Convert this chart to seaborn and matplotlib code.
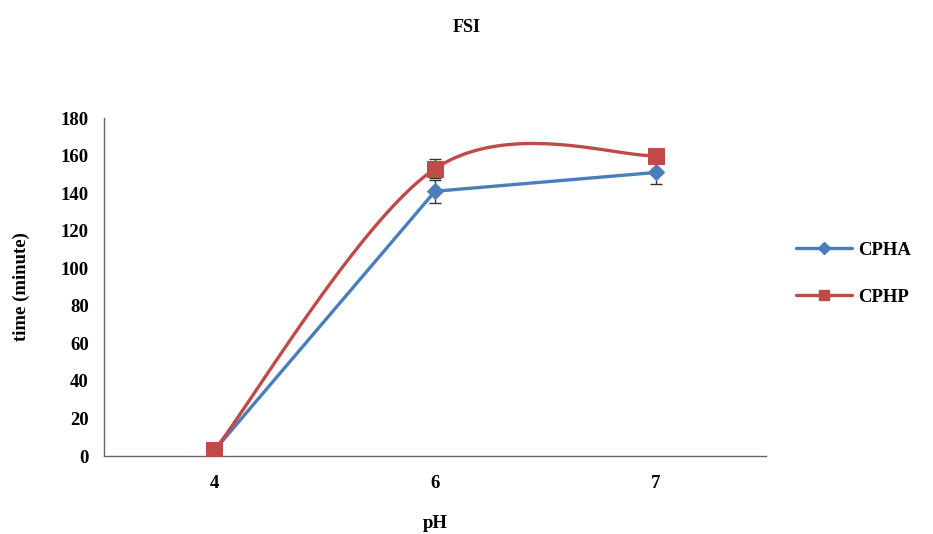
import numpy as np
import pandas as pd
import matplotlib
matplotlib.use("Agg")
import matplotlib.pyplot as plt
import seaborn as sns

# data
ph_labels = ["4", "6", "7"]
cpha = [3, 141, 151]
cpha_err = [1, 6, 6]
cphp = [3, 153, 160]
cphp_err = [1, 5, 3]

BLUE = "#4A7EBB"
RED = "#BE4B48"


def excel_smooth(xs, ys, n=60):
    # Excel-style smoothed line: cubic bezier with control points at 1/6 of neighbour chord
    xs = np.asarray(xs, float)
    ys = np.asarray(ys, float)
    px = np.concatenate([[xs[0]], xs, [xs[-1]]])
    py = np.concatenate([[ys[0]], ys, [ys[-1]]])
    outx, outy = [], []
    t = np.linspace(0, 1, n)
    for i in range(1, len(px) - 2):
        p0 = np.array([px[i], py[i]])
        p3 = np.array([px[i + 1], py[i + 1]])
        c1 = p0 + (p3 - np.array([px[i - 1], py[i - 1]])) / 6
        c2 = p3 - (np.array([px[i + 2], py[i + 2]]) - p0) / 6
        b = ((1 - t) ** 3)[:, None] * p0 + (3 * (1 - t) ** 2 * t)[:, None] * c1 \
            + (3 * (1 - t) * t ** 2)[:, None] * c2 + (t ** 3)[:, None] * p3
        outx.extend(b[:, 0])
        outy.extend(b[:, 1])
    return outx, outy


sns.set_style("white")
plt.rcParams["font.family"] = ["Liberation Serif", "DejaVu Serif"]
plt.rcParams["font.weight"] = "bold"
plt.rcParams["text.color"] = "black"
plt.rcParams["axes.labelcolor"] = "black"
plt.rcParams["xtick.color"] = "black"
plt.rcParams["ytick.color"] = "black"

pos = np.arange(len(ph_labels))
df = pd.DataFrame({"pos": pos, "CPHA": cpha, "CPHP": cphp})

fig = plt.figure(figsize=(9.33, 5.34), dpi=100)
ax = fig.add_axes([0.1115, 0.146, 0.7095, 0.633])

# CPHA: straight segments, diamond markers
ax.errorbar(pos, cpha, yerr=cpha_err, fmt="none", ecolor="#333333", elinewidth=1, capsize=4, zorder=2)
sns.lineplot(data=df, x="pos", y="CPHA", ax=ax, color=BLUE, linewidth=2.4, marker="D",
             markersize=8, markeredgecolor=BLUE, zorder=3)
ax.plot([], [], color=BLUE, linewidth=2.4, marker="D", markersize=6, label="CPHA")

# CPHP: smoothed line, square markers
ax.errorbar(pos, cphp, yerr=cphp_err, fmt="none", ecolor="#333333", elinewidth=1, capsize=4, zorder=2)
sx, sy = excel_smooth(pos, cphp)
ax.plot(sx, sy, color=RED, linewidth=2.4, zorder=4)
sns.lineplot(data=df, x="pos", y="CPHP", ax=ax, color=RED, linewidth=0, marker="s",
             markersize=12, markeredgecolor=RED, zorder=5)
ax.plot([], [], color=RED, linewidth=2.4, marker="s", markersize=7, label="CPHP")

ax.set_xlim(-0.5, 2.5)
ax.set_ylim(0, 180)
ax.set_yticks(np.arange(0, 181, 20))
ax.set_xticks([-0.5, 0.5, 1.5, 2.5])
ax.set_xticklabels([])
ax.set_xticks(pos, minor=True)
ax.set_xticklabels(ph_labels, minor=True)
ax.tick_params(axis="x", which="minor", length=0, pad=14, labelsize=13.5)
ax.tick_params(axis="x", which="major", length=5, direction="out", color="#666666")
ax.tick_params(axis="y", length=5, direction="out", color="#666666", labelsize=13.5, pad=6)

for s in ["top", "right"]:
    ax.spines[s].set_visible(False)
for s in ["left", "bottom"]:
    ax.spines[s].set_color("#666666")
    ax.spines[s].set_linewidth(1)

ax.set_xlabel("pH", fontsize=13.5, fontweight="bold", labelpad=16)
ax.set_ylabel("time (minute)", fontsize=13.5, fontweight="bold", labelpad=22)
fig.suptitle("FSI", x=0.5, y=0.965, fontsize=13, fontweight="bold")

handles, labels = ax.get_legend_handles_labels()
keep = [(h, l) for h, l in zip(handles, labels) if l in ("CPHA", "CPHP")]
leg = ax.legend([h for h, l in keep], [l for h, l in keep], loc="center left",
                bbox_to_anchor=(1.02, 0.54), frameon=False, fontsize=13.5,
                handlelength=3.0, labelspacing=1.6, handletextpad=0.3)

fig.savefig("out.png", dpi=100)
